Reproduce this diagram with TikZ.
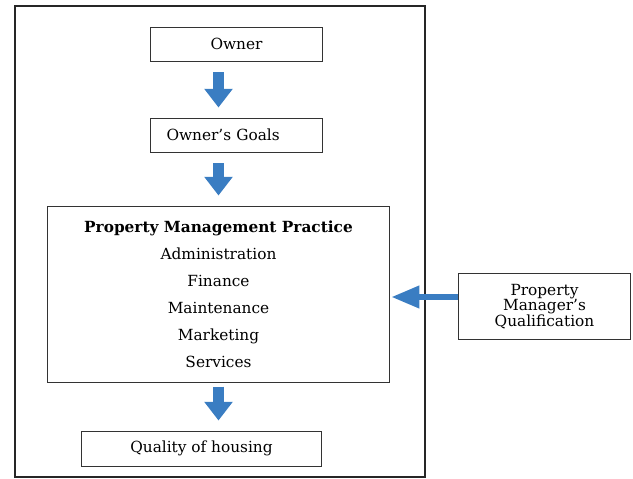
\documentclass[tikz,border=0pt]{standalone}
\usepackage{fontspec}
\setmainfont{DejaVu Serif}
\usetikzlibrary{positioning,arrows.meta}
\definecolor{flowblue}{RGB}{58,125,194}
\begin{document}
\begin{tikzpicture}[x=0.75pt, y=-0.75pt, font=\fontsize{11.5}{12}\selectfont,
        box/.style = {draw=black!80, line width=0.75pt, minimum width=129.5pt, minimum height=25.5pt, inner sep=2pt},
        flow/.style = {draw=flowblue, line width=8pt, -{Triangle[width=20.5pt, length=14pt]}, shorten <=8pt, shorten >=7.5pt}]
        \useasboundingbox (0,0) rectangle (633,479);
        \draw[line width=1.5pt, black!85] (15,6) rectangle (425,477);

        \node[box] (owner) at (236.5,44) {Owner};
        \node[box, below=42pt of owner, text width=105pt, inner xsep=12pt, align=left] (goals) {Owner's Goals};
        \node[box, below=39.75pt of goals, xshift=-13.5pt, minimum width=256.5pt, minimum height=132pt, align=center, font=\fontsize{11.5}{20.25}\selectfont] (pmp)
            {\textbf{Property Management Practice}\\Administration\\Finance\\Maintenance\\Marketing\\Services};
        \node[box, below=36pt of pmp, xshift=-12.75pt, minimum width=180pt, minimum height=26.25pt] (quality) {Quality of housing};
        \node[box, right=51pt of pmp, yshift=-9.4pt, minimum width=129pt, minimum height=50pt, align=center, font=\fontsize{11.5}{11.25}\selectfont] (manager)
            {Property\\Manager's\\Qualification};

        \draw[flow] (owner.south -| pmp.north) -- (goals.north -| pmp.north);
        \draw[flow] (goals.south -| pmp.north) -- (pmp.north);
        \draw[flow, shorten <=3pt] (pmp.south) -- (quality.north -| pmp.south);
        \draw[flow, line width=4.5pt, -{Triangle[width=16pt, length=21pt]}, shorten <=0pt, shorten >=1pt] ([yshift=-2.25pt]manager.west |- pmp.east) -- ([yshift=-2.25pt]pmp.east);

    \end{tikzpicture}
\end{document}
